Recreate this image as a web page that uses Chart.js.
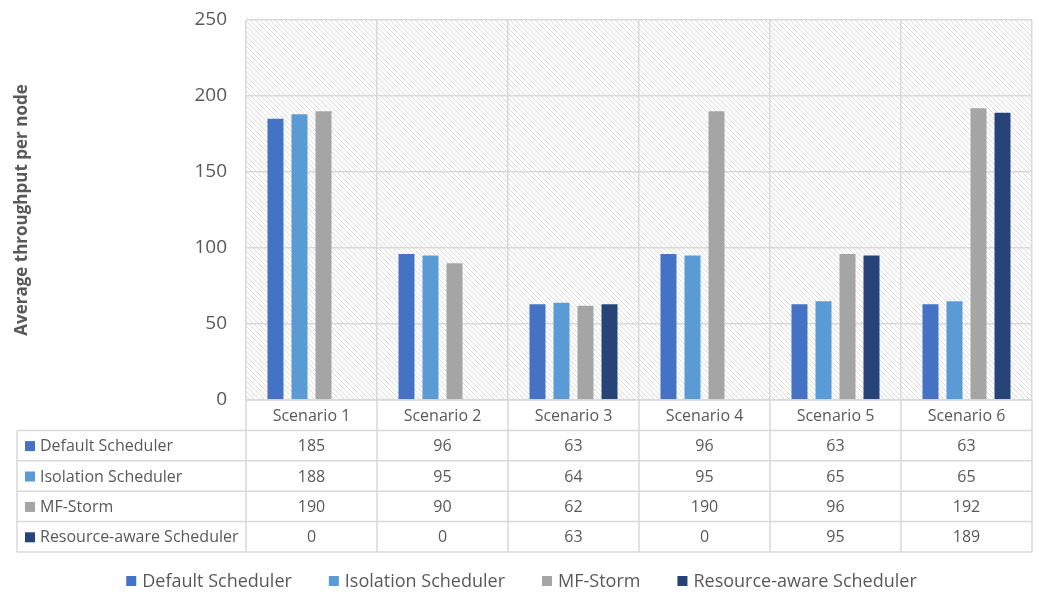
<!DOCTYPE html>
<html>
<head>
<meta charset="utf-8">
<script src="https://cdn.jsdelivr.net/npm/chart.js@4/dist/chart.umd.min.js"></script>
<style>
  html, body { margin: 0; padding: 0; background: #ffffff; }
  #wrap { width: 1039px; height: 592px; }
</style>
</head>
<body>
<div id="wrap"><canvas id="c" width="1039" height="592"></canvas></div>
<script>
// Scenarios and per-scheduler throughput values
const categories = ['Scenario 1', 'Scenario 2', 'Scenario 3', 'Scenario 4', 'Scenario 5', 'Scenario 6'];
const seriesNames = ['Default Scheduler', 'Isolation Scheduler', 'MF-Storm', 'Resource-aware Scheduler'];
const defaultScheduler = [185, 96, 63, 96, 63, 63];
const isolationScheduler = [188, 95, 64, 95, 65, 65];
const mfStorm = [190, 90, 62, 190, 96, 192];
const resourceAware = [0, 0, 63, 0, 95, 189];
const yTicks = [0, 50, 100, 150, 200, 250];

const seriesColors = ['#4472C4', '#5B9BD5', '#A5A5A5', '#264478'];
const FONT = '"Open Sans", "Noto Sans", sans-serif';
const TEXT = '#595959';
const LINE = '#d9d9d9';

// Diagonal hatch used as plot background
function hatchPattern(ctx) {
  const t = document.createElement('canvas');
  t.width = 5; t.height = 5;
  const g = t.getContext('2d');
  g.strokeStyle = 'rgba(175,175,175,0.45)';
  g.lineWidth = 1;
  g.beginPath();
  g.moveTo(0, 0); g.lineTo(5, 5);
  g.moveTo(-1, 4); g.lineTo(1, 6);
  g.moveTo(4, -1); g.lineTo(6, 1);
  g.stroke();
  return ctx.createPattern(t, 'repeat');
}

const tableRowH = 30.4;

const backdrop = {
  id: 'backdrop',
  beforeDraw(chart) {
    const { ctx, chartArea: a } = chart;
    ctx.save();
    ctx.fillStyle = hatchPattern(ctx);
    ctx.fillRect(a.left, a.top, a.right - a.left, a.bottom - a.top);
    ctx.restore();
  }
};

// Data table under the plot plus the legend row
const dataTable = {
  id: 'dataTable',
  afterDraw(chart) {
    const { ctx, chartArea: a, scales } = chart;
    const x = scales.x;
    const tableLeft = 17;
    const top = a.bottom;
    const rows = chart.data.datasets.length;
    const bottom = top + tableRowH * (rows + 1);
    const n = chart.data.labels.length;
    const step = (a.right - a.left) / n;

    ctx.save();
    ctx.strokeStyle = LINE;
    ctx.lineWidth = 1.5;
    ctx.beginPath();
    // vertical separators through the table
    for (let i = 0; i <= n; i++) {
      const px = a.left + i * step;
      ctx.moveTo(px, top); ctx.lineTo(px, bottom);
    }
    ctx.moveTo(tableLeft, top + tableRowH); ctx.lineTo(tableLeft, bottom);
    // horizontal rules
    ctx.moveTo(a.left, top); ctx.lineTo(a.right, top);
    for (let r = 1; r <= rows + 1; r++) {
      const py = top + r * tableRowH;
      ctx.moveTo(tableLeft, py); ctx.lineTo(a.right, py);
    }
    ctx.stroke();

    ctx.fillStyle = TEXT;
    ctx.font = '16px ' + FONT;
    ctx.textAlign = 'center';
    ctx.textBaseline = 'middle';
    chart.data.labels.forEach((lab, i) => {
      ctx.fillText(lab, x.getPixelForValue(i), top + tableRowH / 2 + 1);
    });
    chart.data.datasets.forEach((ds, r) => {
      const cy = top + tableRowH * (r + 1.5) + 1;
      ds.data.forEach((v, i) => {
        ctx.fillStyle = TEXT;
        ctx.textAlign = 'center';
        ctx.fillText(String(v), x.getPixelForValue(i), cy);
      });
      ctx.fillStyle = ds.backgroundColor;
      ctx.fillRect(25, cy - 5.5, 10, 10);
      ctx.fillStyle = TEXT;
      ctx.textAlign = 'left';
      ctx.fillText(ds.label, 40, cy);
    });

    // legend
    ctx.font = '18px ' + FONT;
    const box = 10, gapText = 6, gapItem = 37;
    const widths = chart.data.datasets.map(ds => box + gapText + ctx.measureText(ds.label).width);
    const total = widths.reduce((s, w) => s + w, 0) + gapItem * (widths.length - 1);
    let lx = 521.5 - total / 2;
    const ly = 581;
    chart.data.datasets.forEach((ds, i) => {
      ctx.fillStyle = ds.backgroundColor;
      ctx.fillRect(lx, ly - box / 2, box, box);
      ctx.fillStyle = TEXT;
      ctx.textAlign = 'left';
      ctx.fillText(ds.label, lx + box + gapText, ly + 1);
      lx += widths[i] + gapItem;
    });
    ctx.restore();
  }
};

const seriesData = [defaultScheduler, isolationScheduler, mfStorm, resourceAware];

new Chart(document.getElementById('c'), {
  type: 'bar',
  data: {
    labels: categories,
    datasets: seriesNames.map((name, i) => ({
      label: name,
      data: seriesData[i],
      backgroundColor: seriesColors[i],
      borderWidth: 0,
      categoryPercentage: 0.733,
      barPercentage: 0.667
    }))
  },
  options: {
    responsive: false,
    animation: false,
    devicePixelRatio: 1,
    layout: { padding: { left: 0, top: 20, right: 7, bottom: 192 } },
    plugins: { legend: { display: false }, tooltip: { enabled: false } },
    scales: {
      x: {
        offset: true,
        grid: { offset: true, color: LINE, lineWidth: 1.5, drawTicks: false },
        border: { display: false },
        ticks: { display: false }
      },
      y: {
        min: 0, max: 250,
        afterBuildTicks(s) { s.ticks = yTicks.map(v => ({ value: v })); },
        afterFit(s) { s.width = 246; s.paddingTop = 0; s.paddingBottom = 0; },
        grid: { color: LINE, lineWidth: 1.5, drawTicks: false },
        border: { display: false },
        ticks: { padding: 19, color: TEXT, font: { family: FONT, size: 19 } },
        title: {
          display: true,
          text: 'Average throughput per node',
          color: TEXT,
          font: { family: FONT, size: 17, weight: 'bold' },
          padding: { top: 12, bottom: 0 }
        }
      }
    }
  },
  plugins: [backdrop, dataTable]
});
</script>
</body>
</html>
